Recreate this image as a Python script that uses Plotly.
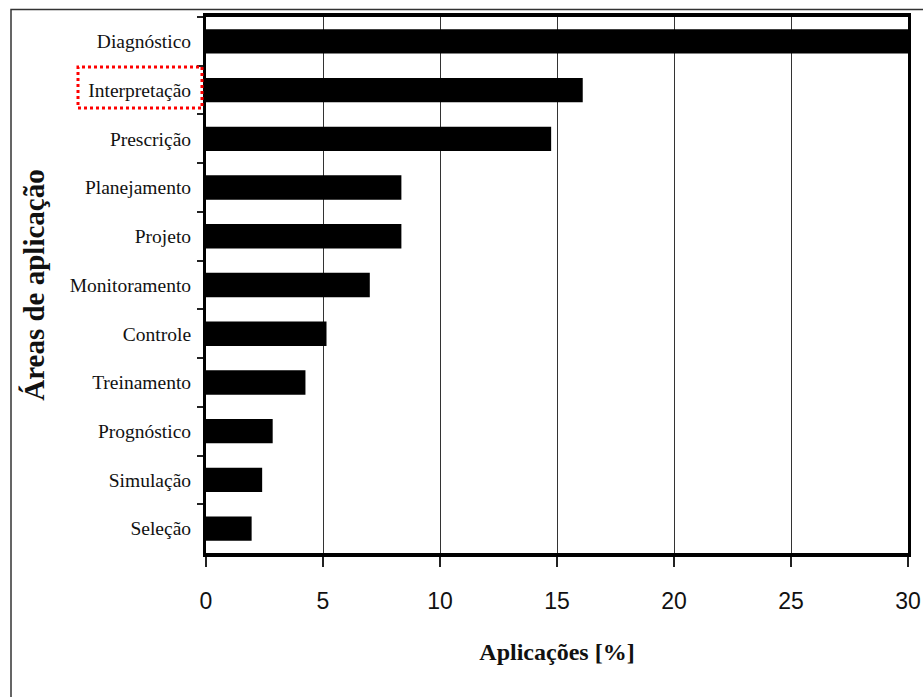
import plotly.graph_objects as go

categories = ["Diagnóstico", "Interpretação", "Prescrição", "Planejamento", "Projeto",
              "Monitoramento", "Controle", "Treinamento", "Prognóstico", "Simulação", "Seleção"]
values = [30.0, 16.1, 14.75, 8.35, 8.35, 7.0, 5.15, 4.25, 2.85, 2.4, 1.95]
x_ticks = [0, 5, 10, 15, 20, 25, 30]

W, H = 923, 697
ml, mr, mt, mb = 206, 15, 17, 144
pw, ph = W - ml - mr, H - mt - mb

def px_x(p):
    return (p - ml) / pw

def px_y(p):
    return (H - mb - p) / ph

fig = go.Figure(go.Bar(
    x=values, y=categories, orientation="h",
    marker=dict(color="black", line=dict(width=0)),
))

fig.update_layout(
    width=W, height=H,
    margin=dict(l=ml, r=mr, t=mt, b=mb, autoexpand=False),
    paper_bgcolor="white", plot_bgcolor="white",
    bargap=0.5, showlegend=False,
    xaxis=dict(
        range=[0, 30], tickvals=x_ticks, ticktext=[str(v) for v in x_ticks],
        showgrid=True, gridcolor="#333333", gridwidth=1.2,
        showline=True, linecolor="black", linewidth=4, mirror=True,
        ticks="outside", ticklen=10, tickwidth=1.5, tickcolor="#222222",
        ticklabelstandoff=14, ticklabeloverflow="allow",
        tickfont=dict(family="Liberation Sans, Arial, sans-serif", size=23, color="#111111"),
        zeroline=False,
        title=dict(text="<b>Aplicações [%]</b>",
                   font=dict(family="Liberation Serif, Times New Roman, serif", size=24, color="#111111"),
                   standoff=32),
    ),
    yaxis=dict(
        autorange="reversed",
        showgrid=False,
        showline=True, linecolor="black", linewidth=3, mirror=True,
        ticks="outside", ticklen=6, tickwidth=1.5, tickcolor="#222222", tickson="boundaries",
        ticklabelstandoff=8,
        tickfont=dict(family="Liberation Serif, Times New Roman, serif", size=19.5, color="#111111"),
        title=dict(text="<b>Áreas de aplicação</b>",
                   font=dict(family="Liberation Serif, Times New Roman, serif", size=29, color="#111111"),
                   standoff=17),
    ),
    shapes=[
        # outer frame (right/bottom off-canvas)
        dict(type="rect", xref="paper", yref="paper",
             x0=px_x(11), x1=1.12, y0=-0.35, y1=px_y(9.5),
             line=dict(color="#333333", width=1.5), fillcolor="rgba(0,0,0,0)", layer="below"),
        # red dotted highlight around "Interpretação"
        dict(type="rect", xref="paper", yref="paper",
             x0=px_x(78), x1=px_x(202), y0=px_y(108), y1=px_y(67),
             line=dict(color="red", width=3, dash="dot"), fillcolor="rgba(0,0,0,0)"),
    ],
)

fig.write_html(
    "out.html",
    config={"displayModeBar": False},
    post_script="document.body.style.margin='0';document.body.style.overflow='hidden';",
)
